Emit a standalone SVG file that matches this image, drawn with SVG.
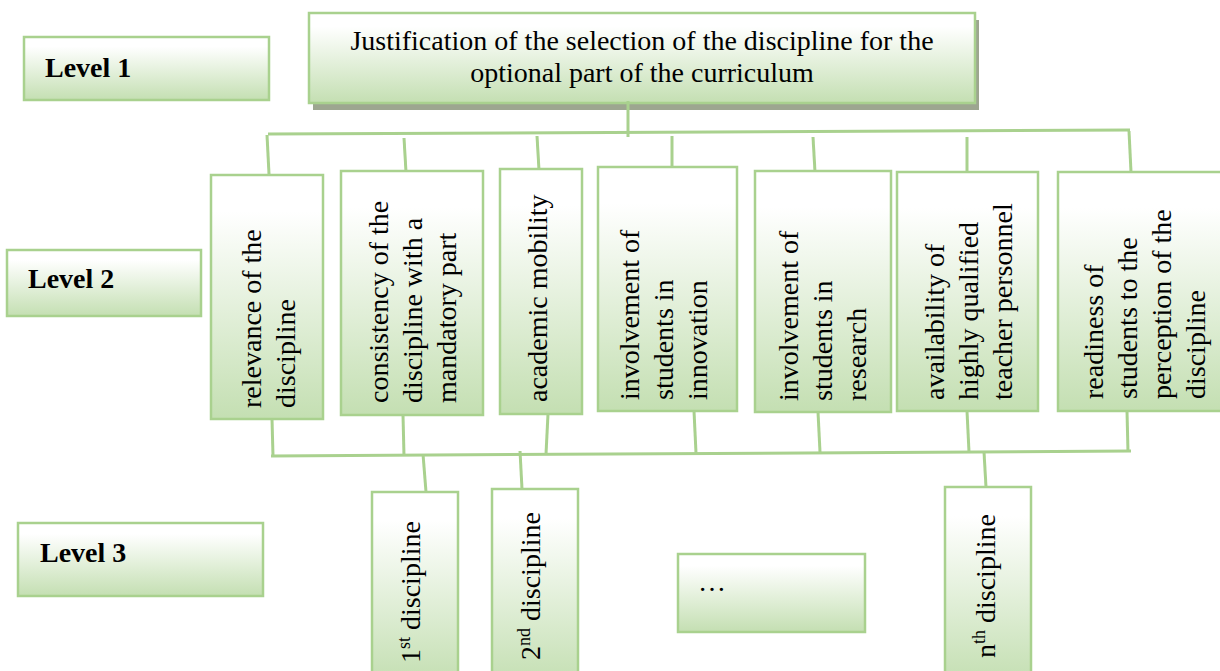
<svg xmlns="http://www.w3.org/2000/svg" width="1220" height="671" viewBox="0 0 1220 671">
<defs>
<linearGradient id="g" x1="0" y1="0" x2="0" y2="1">
<stop offset="0" stop-color="#ffffff"/>
<stop offset="0.15" stop-color="#ffffff"/>
<stop offset="1" stop-color="#c4dfb2"/>
</linearGradient>
<style>
.box{fill:url(#g);stroke:#a9d18e;stroke-width:2.5}
.shadow{fill:#9da690}
.lbl{font-family:"Liberation Serif","Times New Roman",serif;font-size:28px;fill:#000}
.lvl{font-family:"Liberation Serif","Times New Roman",serif;font-size:28px;font-weight:bold;fill:#000}
.conn line, .conn polyline{stroke:#a9d18e;stroke-width:3;fill:none}
.sup{font-size:18px}
</style>
</defs>

<g id="level1">
<rect class="box" x="24" y="37" width="245" height="63"/>
<text class="lvl" x="45" y="77">Level 1</text>
</g>
<g id="level2">
<rect class="box" x="7" y="250" width="194" height="66"/>
<text class="lvl" x="28" y="288">Level 2</text>
</g>
<g id="level3">
<rect class="box" x="18" y="523" width="245" height="73"/>
<text class="lvl" x="40" y="562">Level 3</text>
</g>

<g id="root">
<rect class="shadow" x="313" y="20" width="666" height="90"/>
<rect class="box" x="309" y="13" width="666" height="90"/>
<text class="lbl" text-anchor="middle"><tspan x="642" y="50">Justification of the selection of the discipline for the</tspan><tspan x="642" y="82">optional part of the curriculum</tspan></text>
</g>

<g class="conn" id="connectors">
<line x1="628" y1="101" x2="628" y2="137"/>
<line x1="268" y1="134" x2="1130" y2="130"/>
<line x1="267" y1="135" x2="269" y2="174"/>
<line x1="404" y1="138" x2="406" y2="172"/>
<line x1="537" y1="136" x2="539" y2="170"/>
<line x1="672" y1="136" x2="672" y2="168"/>
<line x1="813" y1="137" x2="815" y2="172"/>
<line x1="967" y1="137" x2="967" y2="172"/>
<line x1="1129" y1="131" x2="1131" y2="172"/>
<line x1="272" y1="419" x2="273" y2="456"/>
<line x1="403" y1="415" x2="404" y2="456"/>
<line x1="548" y1="414" x2="546" y2="454"/>
<line x1="694" y1="411" x2="696" y2="453"/>
<line x1="818" y1="412" x2="820" y2="452"/>
<line x1="967" y1="411" x2="969" y2="452"/>
<line x1="1127" y1="411" x2="1128" y2="452"/>
<line x1="271" y1="456" x2="1131" y2="451"/>
<line x1="423" y1="454" x2="426" y2="492"/>
<line x1="520" y1="451" x2="522" y2="489"/>
<line x1="984" y1="452" x2="986" y2="487"/>
</g>

<g id="relevance">
<rect class="box" x="211" y="175" width="112" height="244"/>
<text class="lbl" transform="translate(261,408) rotate(-90)"><tspan x="0" y="0">relevance of the</tspan><tspan x="0" y="34">discipline</tspan></text>
</g>
<g id="consistency">
<rect class="box" x="341" y="171" width="142" height="244"/>
<text class="lbl" transform="translate(388,403) rotate(-90)"><tspan x="0" y="0">consistency of the</tspan><tspan x="0" y="34">discipline with a</tspan><tspan x="0" y="68">mandatory part</tspan></text>
</g>
<g id="mobility">
<rect class="box" x="500" y="169" width="82" height="245"/>
<text class="lbl" transform="translate(547,402) rotate(-90)"><tspan x="0" y="0">academic mobility</tspan></text>
</g>
<g id="innovation">
<rect class="box" x="598" y="167" width="139" height="244"/>
<text class="lbl" transform="translate(639,400) rotate(-90)"><tspan x="0" y="0">involvement of</tspan><tspan x="0" y="34">students in</tspan><tspan x="0" y="68">innovation</tspan></text>
</g>
<g id="research">
<rect class="box" x="755" y="171" width="136" height="241"/>
<text class="lbl" transform="translate(798,401) rotate(-90)"><tspan x="0" y="0">involvement of</tspan><tspan x="0" y="34">students in</tspan><tspan x="0" y="68">research</tspan></text>
</g>
<g id="personnel">
<rect class="box" x="897" y="172" width="141" height="239"/>
<text class="lbl" transform="translate(944,400) rotate(-90)"><tspan x="0" y="0">availability of</tspan><tspan x="0" y="34">highly qualified</tspan><tspan x="0" y="68">teacher personnel</tspan></text>
</g>
<g id="readiness">
<rect class="box" x="1058" y="172" width="170" height="239"/>
<text class="lbl" transform="translate(1103,399) rotate(-90)"><tspan x="0" y="0">readiness of</tspan><tspan x="0" y="34">students to the</tspan><tspan x="0" y="68">perception of the</tspan><tspan x="0" y="102">discipline</tspan></text>
</g>

<g id="d1">
<rect class="box" x="372" y="492" width="86" height="190"/>
<text class="lbl" transform="translate(420,663) rotate(-90)">1<tspan class="sup" dy="-10">st</tspan><tspan dy="10"> discipline</tspan></text>
</g>
<g id="d2">
<rect class="box" x="492" y="489" width="86" height="195"/>
<text class="lbl" transform="translate(540,660) rotate(-90)">2<tspan class="sup" dy="-10">nd</tspan><tspan dy="10"> discipline</tspan></text>
</g>
<g id="dots">
<rect class="box" x="678" y="554" width="187" height="78"/>
<text class="lbl" x="698" y="591">…</text>
</g>
<g id="dn">
<rect class="box" x="945" y="487" width="86" height="195"/>
<text class="lbl" transform="translate(995,658) rotate(-90)">n<tspan class="sup" dy="-10">th</tspan><tspan dy="10"> discipline</tspan></text>
</g>
</svg>
